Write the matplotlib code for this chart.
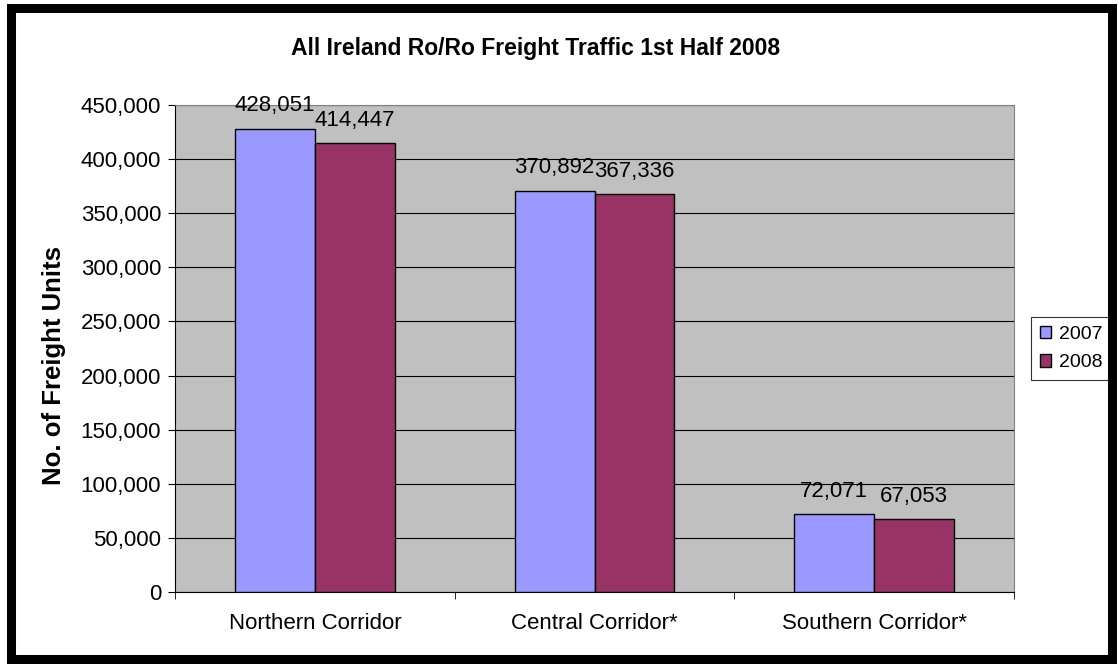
import matplotlib.pyplot as plt
import numpy as np
from matplotlib.patches import Rectangle
from matplotlib.ticker import FuncFormatter, MultipleLocator

plt.rcParams['font.family'] = ['Liberation Sans', 'DejaVu Sans']

corridors = ["Northern Corridor", "Central Corridor*", "Southern Corridor*"]
years = ["2007", "2008"]
units_2007 = [428051, 370892, 72071]
units_2008 = [414447, 367336, 67053]
colors = ["#9999FF", "#993366"]

fig = plt.figure(figsize=(11.19, 6.64), dpi=100)
ax = fig.add_axes([0.1564, 0.1084, 0.7498, 0.7335])
ax.set_facecolor("#C0C0C0")

x = np.arange(len(corridors))
w = 0.2857
for i, (vals, yr) in enumerate(zip([units_2007, units_2008], years)):
    pos = x + (i - 0.5) * w
    bars = ax.bar(pos, vals, width=w, color=colors[i], edgecolor="black",
                  linewidth=1, label=yr, zorder=3)
    for b, v in zip(bars, vals):
        ax.annotate(f"{v:,}", (b.get_x() + b.get_width() / 2, v),
                    xytext=(0, 9), textcoords="offset points",
                    ha="center", va="bottom", fontsize=16)

ax.set_xlim(-0.5, 2.5)
ax.set_ylim(0, 450000)
ax.yaxis.set_major_locator(MultipleLocator(50000))
ax.yaxis.set_major_formatter(FuncFormatter(lambda v, p: f"{int(v):,}"))
ax.grid(axis="y", color="black", linewidth=0.8, zorder=1)
ax.set_axisbelow(True)

ax.set_xticks(x)
ax.set_xticklabels(corridors)
ax.set_xticks([-0.5, 0.5, 1.5, 2.5], minor=True)
ax.tick_params(axis="x", which="major", length=0, pad=15, labelsize=16)
ax.tick_params(axis="x", which="minor", length=5, direction="out")
ax.tick_params(axis="y", length=5, direction="out", labelsize=16, pad=5)

for s in ["top", "right"]:
    ax.spines[s].set_color("#808080")
for s in ["left", "bottom"]:
    ax.spines[s].set_color("black")

ax.set_ylabel("No. of Freight Units", fontsize=18.5, fontweight="bold")
ax.yaxis.set_label_coords(-0.130, 0.466)
fig.text(0.479, 0.927, "All Ireland Ro/Ro Freight Traffic 1st Half 2008",
         ha="center", va="center", fontsize=16.5, fontweight="bold")

leg = ax.legend(loc="center left", bbox_to_anchor=(1.02, 0.5), fontsize=14,
                frameon=True, fancybox=False, edgecolor="black", handlelength=0.6,
                handleheight=0.6, handletextpad=0.4, borderpad=0.45, labelspacing=0.6,
                borderaxespad=0)
leg.get_frame().set_linewidth(0.8)

fig.patches.append(Rectangle((0.0095, 0.0075), 0.9845, 0.9805, transform=fig.transFigure,
                             fill=False, edgecolor="black", linewidth=6.5))

fig.savefig("out.png", dpi=100)
